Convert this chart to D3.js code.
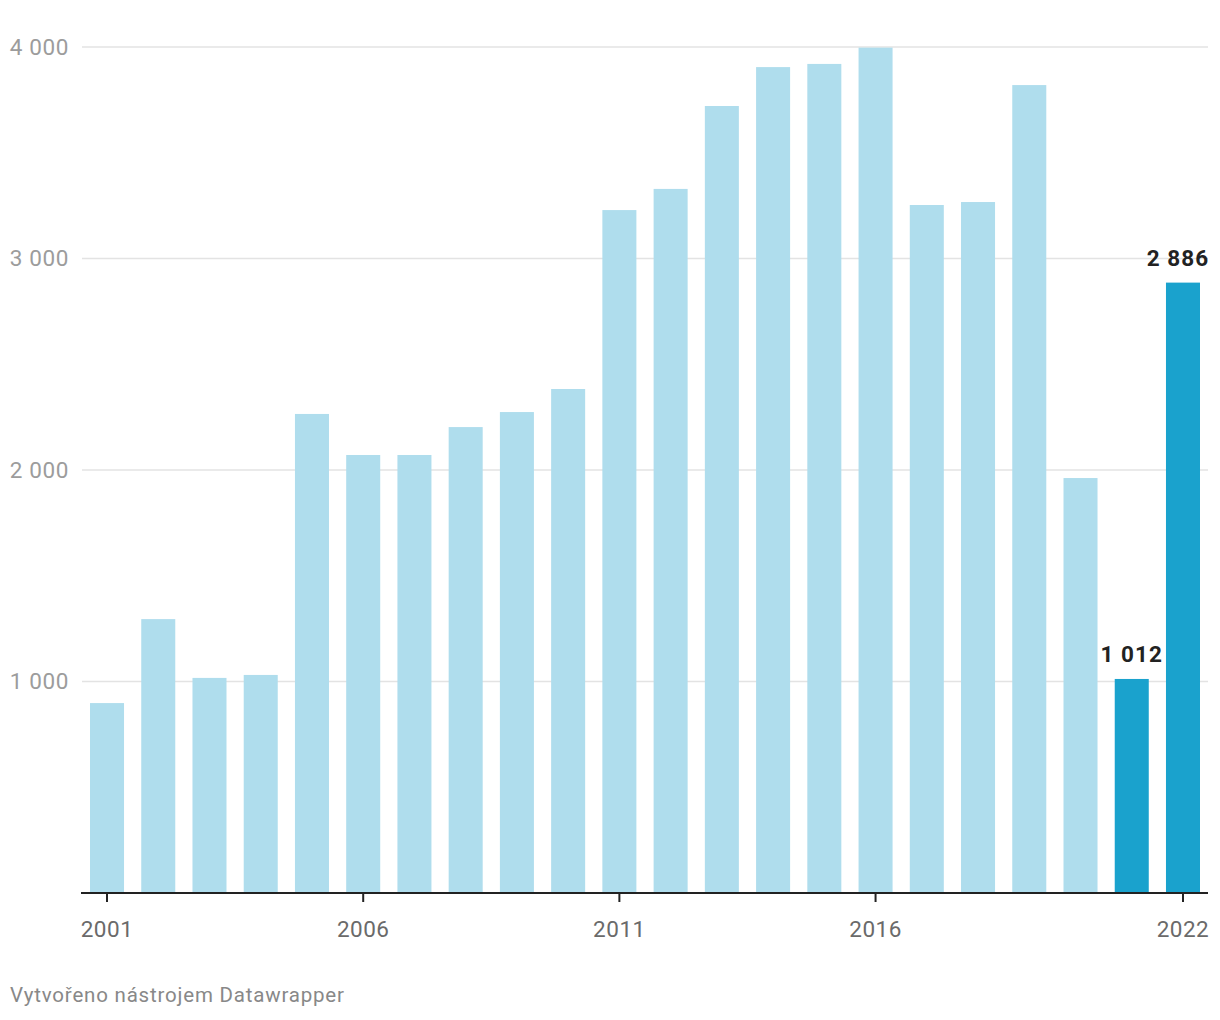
<!DOCTYPE html>
<html>
<head>
<meta charset="utf-8">
<script src="https://cdn.jsdelivr.net/npm/d3@7"></script>
<style>
  html, body { margin: 0; padding: 0; background: #fff; }
  svg { display: block; font-family: Roboto, "Noto Sans", sans-serif; }
</style>
</head>
<body>
<svg id="chart" width="1220" height="1020"></svg>
<script>
const years = ["2001","2002","2003","2004","2005","2006","2007","2008","2009","2010","2011",
               "2012","2013","2014","2015","2016","2017","2018","2019","2020","2021","2022"];
const values = [898, 1295, 1017, 1031, 2265, 2071, 2071, 2203, 2274, 2383, 3229,
                3329, 3721, 3905, 3920, 3997, 3253, 3267, 3820, 1962, 1012, 2886];
const highlighted = ["2021", "2022"];
const xTickYears = ["2001","2006","2011","2016","2022"];
const yTicks = [1000, 2000, 3000, 4000];
const footer = "Vytvořeno nástrojem Datawrapper";

const svg = d3.select("#chart");
const loc = d3.formatLocale({decimal: ",", thousands: " ", grouping: [3], currency: ["", " Kč"]});
const fmt = loc.format(",d");

const x = d3.scaleBand().domain(years).range([81.4, 1208.6]).paddingInner(0.336).paddingOuter(0.168);
const y = d3.scaleLinear().domain([0, 4000]).range([893, 47]);

// gridlines
svg.append("g").selectAll("line").data(yTicks).join("line")
  .attr("x1", 82).attr("x2", 1208)
  .attr("y1", d => y(d)).attr("y2", d => y(d))
  .attr("stroke", "#e3e3e3").attr("stroke-width", 1.4);

// y labels
svg.append("g").selectAll("text").data(yTicks).join("text")
  .attr("x", 69).attr("y", d => y(d)).attr("dy", "0.35em")
  .attr("text-anchor", "end")
  .attr("fill", "#9c9c9c").attr("font-size", 22.5).attr("letter-spacing", 0.6)
  .text(d => fmt(d));

// bars
svg.append("g").selectAll("rect").data(years).join("rect")
  .attr("x", d => x(d)).attr("width", x.bandwidth())
  .attr("y", (d, i) => y(values[i]))
  .attr("height", (d, i) => y(0) - y(values[i]))
  .attr("fill", d => highlighted.includes(d) ? "#1aa2cd" : "#afdded");

// x axis
const xAxis = d3.axisBottom(x).tickValues(xTickYears).tickSize(9).tickPadding(19.5);
const gx = svg.append("g").attr("transform", `translate(0,${y(0)})`).call(xAxis);
gx.select(".domain").attr("d", "M81,0H1208").attr("stroke", "#222").attr("stroke-width", 2);
gx.selectAll(".tick line").attr("stroke", "#222").attr("stroke-width", 2);
gx.selectAll(".tick text").attr("fill", "#6a6a6a").attr("font-size", 22.5)
  .attr("letter-spacing", 0.5)
  .attr("font-family", "Roboto, 'Noto Sans', sans-serif");

// value labels
svg.append("g").selectAll("text").data(highlighted).join("text")
  .attr("x", d => {
    const cx = x(d) + x.bandwidth() / 2;
    return Math.min(cx, 1208 - 30);
  })
  .attr("y", d => y(values[years.indexOf(d)]) - 17)
  .attr("text-anchor", "middle")
  .attr("font-weight", "bold").attr("font-size", 22.5).attr("letter-spacing", 1.1)
  .attr("fill", "#222")
  .text(d => fmt(values[years.indexOf(d)]));

// footer
svg.append("text").attr("x", 10).attr("y", 1002)
  .attr("fill", "#888").attr("font-size", 20.5).attr("letter-spacing", 0.8)
  .text(footer);
</script>
</body>
</html>
